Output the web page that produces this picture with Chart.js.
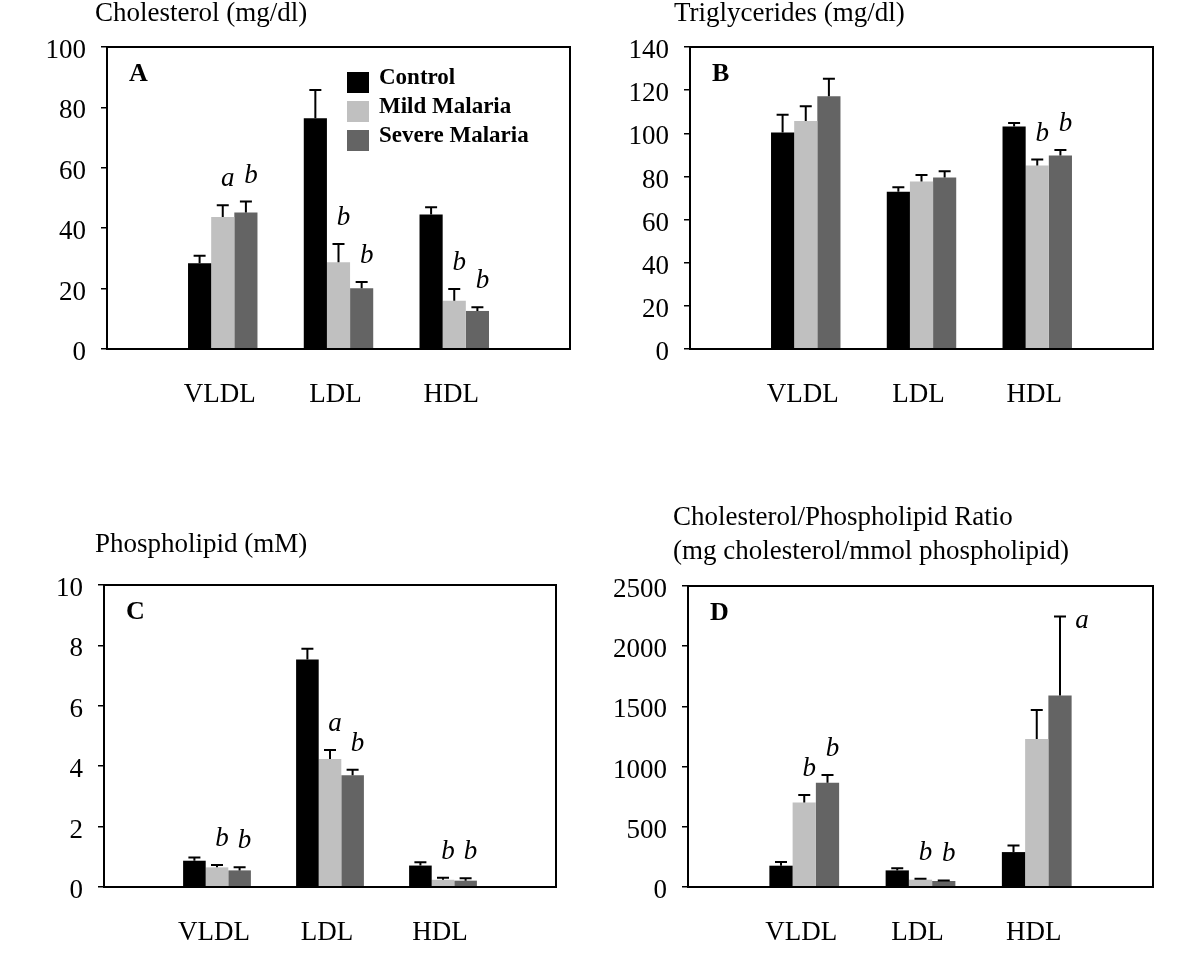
<!DOCTYPE html>
<html>
<head>
<meta charset="utf-8">
<script src="https://cdn.jsdelivr.net/npm/chart.js@4.4.0/dist/chart.umd.min.js"></script>
<style>
  body { margin: 0; background: #fff; width: 1200px; height: 953px; position: relative; overflow: hidden; }
  .panel { position: absolute; }
</style>
</head>
<body>
<div class="panel" style="left:0;top:0;width:600px;height:470px"><canvas id="chartA"></canvas></div>
<div class="panel" style="left:600px;top:0;width:600px;height:470px"><canvas id="chartB"></canvas></div>
<div class="panel" style="left:0;top:476px;width:600px;height:477px"><canvas id="chartC"></canvas></div>
<div class="panel" style="left:600px;top:476px;width:600px;height:477px"><canvas id="chartD"></canvas></div>
<script>
// categorias y series
const categories = ['VLDL', 'LDL', 'HDL'];
const seriesNames = ['Control', 'Mild Malaria', 'Severe Malaria'];
const seriesColors = ['#000000', '#c0c0c0', '#646464'];

// A - Cholesterol (mg/dl)
const cholTicks = [0, 20, 40, 60, 80, 100];
const cholControl = [28.4, 76.4, 44.5];
const cholControlErr = [2.5, 9.4, 2.4];
const cholMild = [43.7, 28.7, 16.0];
const cholMildErr = [3.9, 6.1, 3.9];
const cholSevere = [45.2, 20.1, 12.6];
const cholSevereErr = [3.6, 2.1, 1.2];
const cholMildSig = ['a', 'b', 'b'];
const cholSevereSig = ['b', 'b', 'b'];

// B - Triglycerides (mg/dl)
const trigTicks = [0, 20, 40, 60, 80, 100, 120, 140];
const trigControl = [100.4, 72.9, 103.2];
const trigControlErr = [8.2, 2.1, 1.6];
const trigMild = [105.7, 77.6, 85.1];
const trigMildErr = [6.8, 3.1, 2.7];
const trigSevere = [117.2, 79.5, 89.7];
const trigSevereErr = [8.1, 2.9, 2.5];
const trigMildSig = ['', '', 'b'];
const trigSevereSig = ['', '', 'b'];

// C - Phospholipid (mM)
const phosTicks = [0, 2, 4, 6, 8, 10];
const phosControl = [0.87, 7.53, 0.71];
const phosControlErr = [0.11, 0.36, 0.11];
const phosMild = [0.65, 4.24, 0.24];
const phosMildErr = [0.08, 0.30, 0.07];
const phosSevere = [0.55, 3.70, 0.21];
const phosSevereErr = [0.10, 0.18, 0.08];
const phosMildSig = ['b', 'a', 'b'];
const phosSevereSig = ['b', 'b', 'b'];

// D - Cholesterol/Phospholipid ratio
const ratioTicks = [0, 500, 1000, 1500, 2000, 2500];
const ratioControl = [177, 138, 290];
const ratioControlErr = [30, 17, 55];
const ratioMild = [702, 61, 1229];
const ratioMildErr = [63, 8, 241];
const ratioSevere = [865, 50, 1591];
const ratioSevereErr = [66, 5, 655];
const ratioMildSig = ['b', 'b', ''];
const ratioSevereSig = ['b', 'b', 'a'];

const serif = "'Liberation Serif', 'Times New Roman', serif";

// barras de error, letras, recuadro, titulos y leyenda
const panelDecor = {
    id: 'panelDecor',
    afterDatasetsDraw(chart) {
        const ctx = chart.ctx;
        const a = chart.chartArea;
        const yScale = chart.scales.y;
        ctx.save();
        chart.data.datasets.forEach((ds, i) => {
            const meta = chart.getDatasetMeta(i);
            meta.data.forEach((bar, j) => {
                const v = ds.data[j];
                if (v === null || v === undefined) return;
                const yTop = yScale.getPixelForValue(v + ds.errors[j]);
                ctx.strokeStyle = '#000';
                ctx.lineWidth = 2;
                ctx.beginPath();
                ctx.moveTo(bar.x, bar.y);
                ctx.lineTo(bar.x, yTop);
                ctx.moveTo(bar.x - 6, yTop);
                ctx.lineTo(bar.x + 6, yTop);
                ctx.stroke();
                const mark = ds.marks[j];
                if (mark) {
                    ctx.fillStyle = '#000';
                    ctx.font = 'italic 27px ' + serif;
                    ctx.textAlign = 'center';
                    ctx.textBaseline = 'middle';
                    let ly = yTop - 26;
                    let lx = bar.x + 5;
                    if (ly - 12 < a.top + 4) { // no cabe arriba: al lado
                        lx = bar.x + 22;
                        ly = yTop + 4;
                    }
                    ctx.fillText(mark, lx, ly);
                }
            });
        });
        ctx.restore();
    },
    afterDraw(chart, args, opts) {
        const ctx = chart.ctx;
        const a = chart.chartArea;
        ctx.save();
        ctx.strokeStyle = '#000';
        ctx.lineWidth = 2;
        ctx.strokeRect(a.left, a.top, a.right - a.left, a.bottom - a.top);

        ctx.fillStyle = '#000';
        ctx.textAlign = 'left';
        ctx.textBaseline = 'middle';
        ctx.font = '27px ' + serif;
        opts.title.forEach((line, k) => {
            ctx.fillText(line, a.left + opts.titleDx, a.top + opts.titleDy + k * 34);
        });

        ctx.font = 'bold 26px ' + serif;
        ctx.fillText(opts.letter, a.left + 22, a.top + 27);

        if (opts.legend) {
            ctx.font = 'bold 23px ' + serif;
            chart.data.datasets.forEach((ds, i) => {
                const bx = a.left + 240;
                const by = a.top + 25 + i * 29;
                ctx.fillStyle = ds.backgroundColor;
                ctx.fillRect(bx, by, 22, 21);
                ctx.fillStyle = '#000';
                ctx.fillText(ds.label, bx + 32, by + 6);
            });
        }
        ctx.restore();
    }
};

function buildPanel(id, series, ticks, decor, padding) {
    const datasets = series.map((s, i) => ({
        label: seriesNames[i],
        data: [null, ...s.values, null],
        errors: [0, ...s.errors, 0],
        marks: ['', ...s.marks, ''],
        backgroundColor: seriesColors[i],
        borderWidth: 0,
        categoryPercentage: 0.6,
        barPercentage: 1.0
    }));
    return new Chart(document.getElementById(id), {
        type: 'bar',
        data: { labels: ['', ...categories, ''], datasets: datasets },
        options: {
            responsive: true,
            maintainAspectRatio: false,
            animation: false,
            events: [],
            layout: { padding: padding },
            scales: {
                x: {
                    offset: false,
                    grid: { display: false, drawTicks: false },
                    border: { display: false },
                    ticks: { color: '#000', font: { family: serif, size: 27 }, padding: 30, autoSkip: false, maxRotation: 0, labelOffset: -3 },
                    afterFit: s => { s.height = 60; }
                },
                y: {
                    min: ticks[0],
                    max: ticks[ticks.length - 1],
                    afterBuildTicks: s => { s.ticks = ticks.map(v => ({ value: v })); },
                    grid: { display: true, drawOnChartArea: false, drawTicks: true, tickLength: 6, color: '#000', lineWidth: 1.5 },
                    border: { display: false },
                    ticks: { color: '#000', font: { family: serif, size: 27 }, padding: 15, labelOffset: 4,
                             callback: v => String(v) },
                    afterFit: s => { s.width = 80; }
                }
            },
            plugins: {
                legend: { display: false },
                tooltip: { enabled: false },
                panelDecor: decor
            }
        },
        plugins: [panelDecor]
    });
}

buildPanel('chartA', [
    { values: cholControl, errors: cholControlErr, marks: ['', '', ''] },
    { values: cholMild, errors: cholMildErr, marks: cholMildSig },
    { values: cholSevere, errors: cholSevereErr, marks: cholSevereSig }
], cholTicks, { title: ['Cholesterol (mg/dl)'], titleDx: -12, titleDy: -33, letter: 'A', legend: true },
   { left: 27, right: 28, top: 47, bottom: 61 });

buildPanel('chartB', [
    { values: trigControl, errors: trigControlErr, marks: ['', '', ''] },
    { values: trigMild, errors: trigMildErr, marks: trigMildSig },
    { values: trigSevere, errors: trigSevereErr, marks: trigSevereSig }
], trigTicks, { title: ['Triglycerides (mg/dl)'], titleDx: -16, titleDy: -33, letter: 'B', legend: false },
   { left: 10, right: 47, top: 47, bottom: 61 });

buildPanel('chartC', [
    { values: phosControl, errors: phosControlErr, marks: ['', '', ''] },
    { values: phosMild, errors: phosMildErr, marks: phosMildSig },
    { values: phosSevere, errors: phosSevereErr, marks: phosSevereSig }
], phosTicks, { title: ['Phospholipid (mM)'], titleDx: -9, titleDy: -40, letter: 'C', legend: false },
   { left: 24, right: 44, top: 109, bottom: 6 });

buildPanel('chartD', [
    { values: ratioControl, errors: ratioControlErr, marks: ['', '', ''] },
    { values: ratioMild, errors: ratioMildErr, marks: ratioMildSig },
    { values: ratioSevere, errors: ratioSevereErr, marks: ratioSevereSig }
], ratioTicks, { title: ['Cholesterol/Phospholipid Ratio', '(mg cholesterol/mmol phospholipid)'], titleDx: -15, titleDy: -68, letter: 'D', legend: false },
   { left: 8, right: 47, top: 110, bottom: 6 });
</script>
</body>
</html>
